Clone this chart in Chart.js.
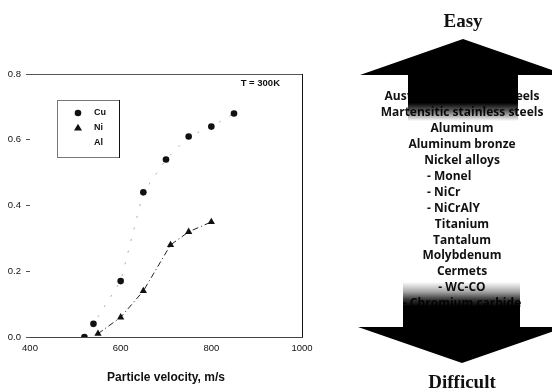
<!DOCTYPE html>
<html>
<head>
<meta charset="utf-8">
<script src="https://cdn.jsdelivr.net/npm/chart.js@4"></script>
<style>
  html, body { margin: 0; padding: 0; background: #fff; }
  #wrap { width: 552px; height: 392px; }
</style>
</head>
<body>
<div id="wrap"><canvas id="chart" width="552" height="392"></canvas></div>
<script>
// chart data
const cuVelocity = [520, 540, 600, 650, 700, 750, 800, 850];
const cuValues   = [0.00, 0.04, 0.17, 0.44, 0.54, 0.61, 0.64, 0.68];
const niVelocity = [550, 600, 650, 710, 750, 800];
const niValues   = [0.01, 0.06, 0.14, 0.28, 0.32, 0.35];
const seriesNames = ['Cu', 'Ni', 'Al'];
const xTicks = [400, 600, 800, 1000];
const yTicks = [0.0, 0.2, 0.4, 0.6, 0.8];
const xTitle = 'Particle velocity, m/s';
const noteText = 'T = 300K';

// right-hand panel: ease of deposition
const topLabel = 'Easy';
const bottomLabel = 'Difficult';
const materials = [
  'Austenitic stainless steels',
  'Martensitic stainless steels',
  'Aluminum',
  'Aluminum bronze',
  'Nickel alloys',
  '- Monel',
  '- NiCr',
  '- NiCrAlY',
  'Titanium',
  'Tantalum',
  'Molybdenum',
  'Cermets',
  '- WC-CO',
  '- Chromium carbide'
];

function toPoints(xs, ys) {
  return xs.map(function(x, i) { return { x: x, y: ys[i] }; });
}

function markerPath(ctx, style, x, y, r) {
  ctx.beginPath();
  if (style === 'triangle') {
    ctx.moveTo(x, y - r);
    ctx.lineTo(x + r * 0.95, y + r * 0.6);
    ctx.lineTo(x - r * 0.95, y + r * 0.6);
    ctx.closePath();
  } else {
    ctx.arc(x, y, r, 0, Math.PI * 2);
  }
}

const framePlugin = {
  id: 'frame',
  afterDraw: function(chart) {
    const ctx = chart.ctx, a = chart.chartArea;
    ctx.save();
    ctx.lineWidth = 1;
    ctx.strokeStyle = '#555';
    ctx.beginPath();
    ctx.moveTo(a.left, a.top + 0.5);
    ctx.lineTo(a.right, a.top + 0.5);
    ctx.stroke();
    ctx.strokeStyle = '#111';
    ctx.beginPath();
    ctx.moveTo(a.right + 0.5, a.top);
    ctx.lineTo(a.right + 0.5, a.bottom);
    ctx.stroke();

    // note
    ctx.fillStyle = '#111';
    ctx.font = 'bold 9.5px "Liberation Sans", Arial, sans-serif';
    ctx.textAlign = 'right';
    ctx.textBaseline = 'middle';
    ctx.fillText(noteText, a.right - 22, a.top + 9);

    // legend box
    const bx = 57, by = 100, bw = 62, bh = 57;
    ctx.strokeStyle = '#777';
    ctx.strokeRect(bx + 0.5, by + 0.5, bw, bh);
    ctx.strokeStyle = '#111';
    ctx.beginPath();
    ctx.moveTo(bx + bw + 0.5, by);
    ctx.lineTo(bx + bw + 0.5, by + bh + 1);
    ctx.stroke();
    const rows = [113, 128, 143];
    chart.data.datasets.forEach(function(ds, i) {
      const y = rows[i];
      if (ds.pointRadius > 0) {
        ctx.fillStyle = ds.pointBackgroundColor;
        markerPath(ctx, ds.pointStyle, 78, y, ds.pointRadius);
        ctx.fill();
      }
      ctx.fillStyle = '#111';
      ctx.textAlign = 'left';
      ctx.font = 'bold 9px "Liberation Sans", Arial, sans-serif';
      ctx.fillText(ds.label, 94, y);
    });
    ctx.restore();
  }
};

const panelPlugin = {
  id: 'panel',
  afterDraw: function(chart) {
    const ctx = chart.ctx;
    const cx = 462;
    ctx.save();

    // material list
    ctx.fillStyle = '#111';
    ctx.textBaseline = 'middle';
    ctx.font = 'bold 12px "Open Sans", "DejaVu Sans", sans-serif';
    materials.forEach(function(m, i) {
      const y = 97 + i * 15.9;
      if (i >= 5 && i <= 7) {
        ctx.textAlign = 'left';
        ctx.fillText(m, 427, y);
      } else {
        ctx.textAlign = 'center';
        ctx.fillText(m, cx, y);
      }
    });

    // up arrow
    let g = ctx.createLinearGradient(0, 39, 0, 121);
    g.addColorStop(0, '#000');
    g.addColorStop(0.78, '#000');
    g.addColorStop(0.88, 'rgba(0,0,0,0.6)');
    g.addColorStop(1, 'rgba(0,0,0,0)');
    ctx.fillStyle = g;
    ctx.beginPath();
    ctx.moveTo(360, 75);
    ctx.lineTo(463, 39);
    ctx.lineTo(566, 75);
    ctx.lineTo(518, 75);
    ctx.lineTo(518, 121);
    ctx.lineTo(408, 121);
    ctx.lineTo(408, 75);
    ctx.closePath();
    ctx.fill();

    // down arrow
    g = ctx.createLinearGradient(0, 282, 0, 363);
    g.addColorStop(0, 'rgba(0,0,0,0)');
    g.addColorStop(0.12, 'rgba(0,0,0,0.35)');
    g.addColorStop(0.22, 'rgba(0,0,0,0.8)');
    g.addColorStop(0.3, '#000');
    g.addColorStop(1, '#000');
    ctx.fillStyle = g;
    ctx.beginPath();
    ctx.moveTo(403, 282);
    ctx.lineTo(520, 282);
    ctx.lineTo(520, 327);
    ctx.lineTo(566, 327);
    ctx.lineTo(462, 363);
    ctx.lineTo(358, 327);
    ctx.lineTo(403, 327);
    ctx.closePath();
    ctx.fill();

    // end labels
    ctx.fillStyle = '#111';
    ctx.textAlign = 'center';
    ctx.font = 'bold 19px "Liberation Serif", "Times New Roman", serif';
    ctx.fillText(topLabel, 463, 22);
    ctx.fillText(bottomLabel, 462, 383);
    ctx.restore();
  }
};

new Chart(document.getElementById('chart'), {
  type: 'scatter',
  data: {
    datasets: [
      {
        label: seriesNames[0],
        data: toPoints(cuVelocity, cuValues),
        showLine: true,
        borderColor: '#aaa',
        borderWidth: 1,
        borderDash: [2, 10],
        pointStyle: 'circle',
        pointRadius: 3.3,
        pointBackgroundColor: '#111',
        pointBorderColor: '#111',
        pointBorderWidth: 0
      },
      {
        label: seriesNames[1],
        data: toPoints(niVelocity, niValues),
        showLine: true,
        borderColor: '#222',
        borderWidth: 1,
        borderDash: [6, 3, 1, 3],
        pointStyle: 'triangle',
        pointRadius: 4.2,
        pointBackgroundColor: '#111',
        pointBorderColor: '#111',
        pointBorderWidth: 0
      },
      {
        label: seriesNames[2],
        data: [],
        pointRadius: 0
      }
    ]
  },
  options: {
    responsive: false,
    animation: false,
    layout: { padding: { top: 74, right: 250, left: 0, bottom: 0 } },
    plugins: { legend: { display: false }, tooltip: { enabled: false } },
    scales: {
      x: {
        type: 'linear',
        min: 400,
        max: 1000,
        afterBuildTicks: function(s) { s.ticks = xTicks.map(function(v) { return { value: v }; }); },
        afterFit: function(s) { s.height = 55; },
        grid: { display: false, drawTicks: false },
        border: { display: true, color: '#444', dash: [6, 4], width: 1 },
        ticks: {
          padding: 6,
          color: '#111',
          font: { family: '"Liberation Sans", Arial, sans-serif', size: 9.5 },
          maxRotation: 0,
          callback: function(v) { return String(v); }
        },
        title: {
          display: true,
          text: xTitle,
          color: '#111',
          font: { family: '"Liberation Sans", Arial, sans-serif', size: 12, weight: 'bold' },
          padding: { top: 0, bottom: 7 }
        }
      },
      y: {
        type: 'linear',
        min: 0,
        max: 0.8,
        afterBuildTicks: function(s) { s.ticks = yTicks.map(function(v) { return { value: v }; }); },
        afterFit: function(s) { s.width = 30; },
        grid: { drawOnChartArea: false, drawTicks: true, tickLength: 4, color: '#555' },
        border: { display: false },
        ticks: {
          padding: 5,
          color: '#111',
          font: { family: '"Liberation Sans", Arial, sans-serif', size: 9.5 },
          callback: function(v) { return v.toFixed(1); }
        }
      }
    }
  },
  plugins: [framePlugin, panelPlugin]
});
</script>
</body>
</html>
